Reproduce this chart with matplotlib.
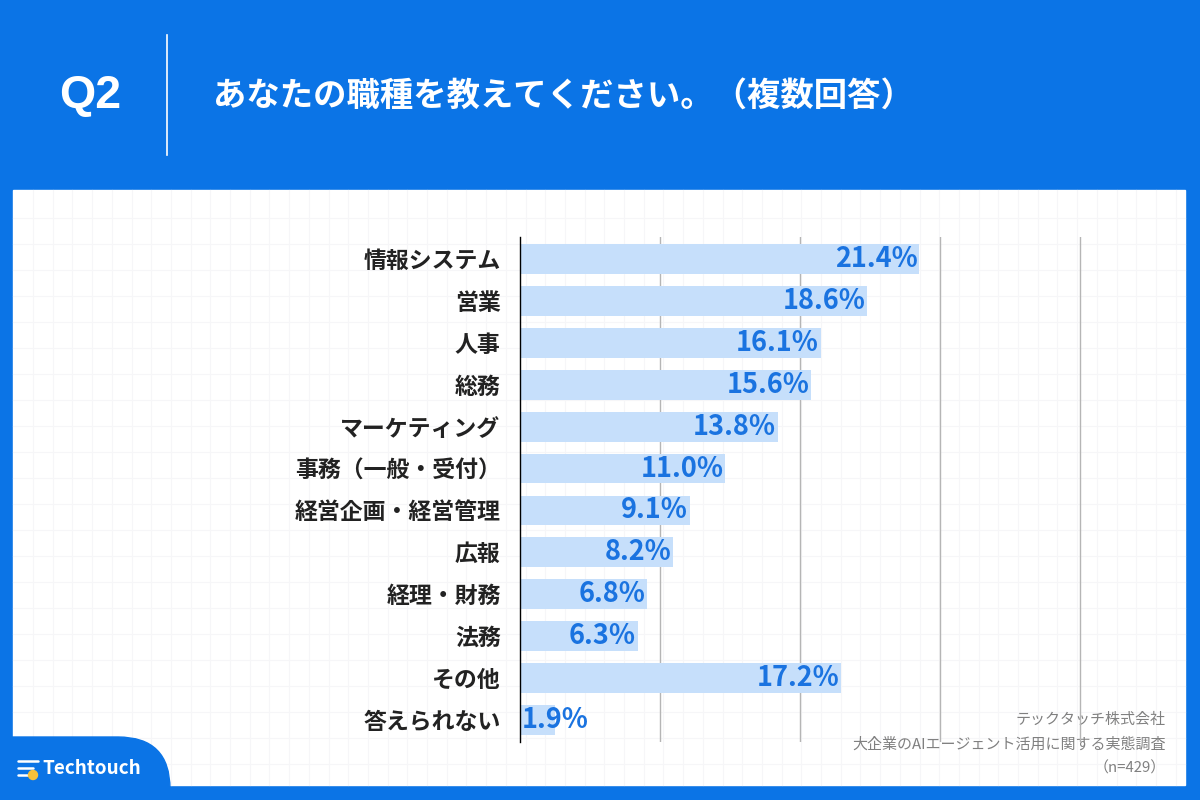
import numpy as np
import matplotlib.pyplot as plt
import matplotlib.patches as mpatches

plt.rcParams['font.family'] = ['Noto Sans CJK JP', 'DejaVu Sans']

# data
categories = ['情報システム', '営業', '人事', '総務', 'マーケティング',
              '事務（一般・受付）', '経営企画・経営管理', '広報', '経理・財務',
              '法務', 'その他', '答えられない']
values = [21.4, 18.6, 16.1, 15.6, 13.8, 11.0, 9.1, 8.2, 6.8, 6.3, 17.2, 1.9]
question = 'Q2'
title = 'あなたの職種を教えてください。（複数回答）'
source_lines = ['テックタッチ株式会社',
                '大企業のAIエージェント活用に関する実態調査',
                '（n=429）']

BLUE = '#0B74E6'
BAR = '#C6DFFB'
VAL = '#1A73E0'

W, H = 1200, 800
fig = plt.figure(figsize=(12, 8), dpi=100)
fig.patch.set_facecolor(BLUE)

# background layer in pixel coordinates
bg = fig.add_axes([0, 0, 1, 1])
bg.set_xlim(0, W)
bg.set_ylim(H, 0)
bg.axis('off')

# white panel
bg.add_patch(mpatches.Rectangle((13, 190), 1172, 595, color='white', zorder=1))
# faint graph-paper grid
for gx in np.arange(33, 1185, 19.7):
    bg.plot([gx, gx], [190, 785], color='#f6f6f8', lw=0.8, zorder=1.5)
for gy in np.arange(218, 785, 26):
    bg.plot([13, 1185], [gy, gy], color='#f6f6f8', lw=0.8, zorder=1.5)

# logo tab in lower left
tab = mpatches.FancyBboxPatch((-60, 737), 230, 120,
                              boxstyle='round,pad=0,rounding_size=52',
                              color=BLUE, zorder=2)
bg.add_patch(tab)
for ly, lx0, lx1 in [(761, 18, 38), (768, 18, 33), (775, 18, 28)]:
    bg.plot([lx0, lx1], [ly, ly], color='white', lw=1.8,
            solid_capstyle='round', zorder=3)
bg.add_patch(mpatches.Circle((33, 775), 4.5, color='#F7C13A', zorder=3))
bg.text(42, 769, 'Techtouch', color='white', fontsize=13.6,
        fontweight='bold', va='center', ha='left', zorder=3)

# header
bg.text(59, 96, question, color='white', fontsize=33.5, fontweight='bold',
        va='center', ha='left', family=['Liberation Sans', 'DejaVu Sans'])
bg.plot([167, 167], [35, 155], color='white', lw=1.2)
bg.text(213, 96, title, color='white', fontsize=24, fontweight='bold',
        va='center', ha='left')

# source note
for i, line in enumerate(source_lines):
    bg.text(1166, 720 + i * 24, line, color='#808080', fontsize=10.8,
            va='center', ha='right', zorder=3)

# chart
x0, x1, y0, y1 = 520, 1082, 237, 742
ax = fig.add_axes([x0 / W, 1 - y1 / H, (x1 - x0) / W, (y1 - y0) / H])
ax.patch.set_alpha(0)
y = np.arange(len(categories))
ax.barh(y, values, height=0.71, color=BAR, zorder=2)
ax.set_xlim(0, 30 * (x1 - x0) / 560)
ax.set_ylim(len(categories) - 0.47, -0.53)
ax.set_xticks([7.5, 15, 22.5, 30])
ax.grid(axis='x', color='#b5b5b5', lw=1, zorder=0)
ax.tick_params(axis='x', length=0, labelbottom=False)
ax.tick_params(axis='y', length=0, pad=14)
ax.set_yticks(y)
ax.set_yticklabels(categories, fontsize=16.5, fontweight='bold', color='#222222')
for s in ['top', 'right', 'bottom']:
    ax.spines[s].set_visible(False)
ax.spines['left'].set_color('black')
ax.spines['left'].set_linewidth(1)
ax.spines['left'].set_zorder(3)

for yi, v in zip(y, values):
    label = f'{v:.1f}%'
    if v < 4:
        ax.text(0.1, yi, label, color=VAL, fontsize=19.5, fontweight='bold',
                va='center', ha='left', zorder=4)
    else:
        ax.text(v - 0.1, yi, label, color=VAL, fontsize=19.5,
                fontweight='bold', va='center', ha='right', zorder=4)

fig.savefig('out.png', dpi=100, facecolor=BLUE)
